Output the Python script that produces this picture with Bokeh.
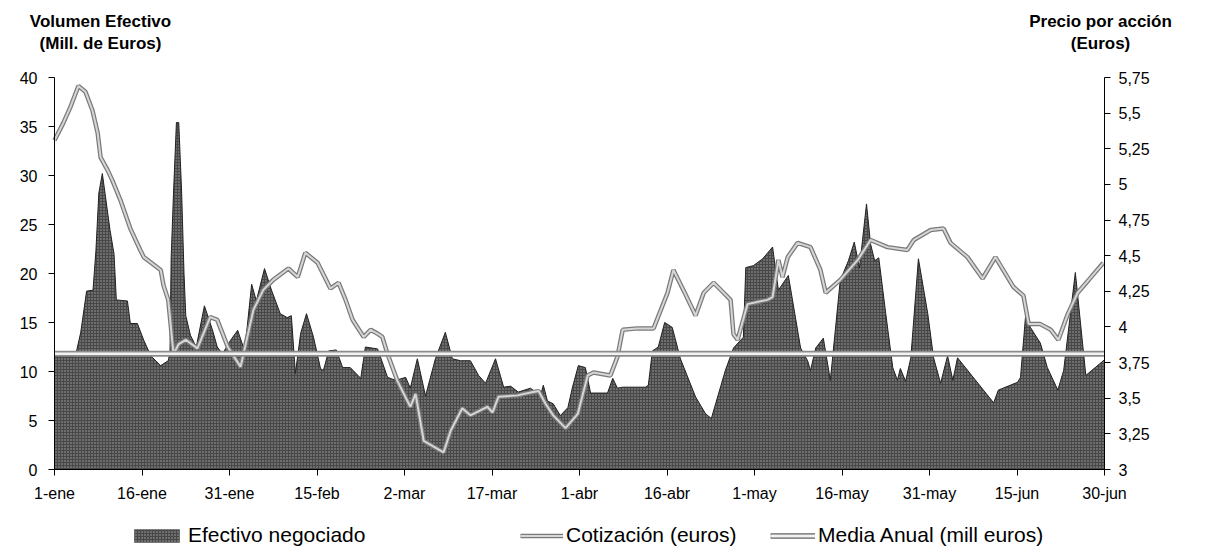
from bokeh.plotting import figure
from bokeh.models import (Range1d, LinearAxis, FixedTicker, Legend, LegendItem, Label)
from bokeh.embed import file_html
from bokeh.resources import INLINE

# ---------------- data (day index from 1-ene) -------------
tick_days = [0, 15, 30, 45, 60, 75, 90, 105, 120, 135, 150, 165, 180]
tick_labels = ["1-ene", "16-ene", "31-ene", "15-feb", "2-mar", "17-mar", "1-abr",
               "16-abr", "1-may", "16-may", "31-may", "15-jun", "30-jun"]

vol_day = [0, 3.6, 4.5, 5.5, 6.6, 7.1, 7.6, 8.2, 8.7, 9.5, 10.2, 10.6, 12.5, 13, 14.2, 15.3,
           16.5, 18.2, 19.5, 19.8, 20.0, 20.4, 20.9, 21.3, 21.8, 22.2, 22.5, 23.3, 24.3, 25.7,
           27.1, 27.9, 28.8, 30.2, 31.4, 32.6, 33.8, 34.6,
           36, 37.2, 38.7, 39.9, 40.6, 41.3, 42.2, 43.2, 44.4, 45.6, 46.1, 47, 48.3, 49.4,
           50.7, 52.5, 53.3, 55.4, 57.1, 58.5, 60.2, 61, 62.2, 63.6, 65.3, 67, 68.2, 69.6,
           71.3, 72.7, 73.9, 75.6, 77, 78.2, 79.5, 81.6, 83.3, 83.8, 84.5, 85.5, 86.7, 88,
           88.8, 89.8, 91, 91.9, 94.8, 95.7, 96.5, 97.4, 101.3, 101.8, 102.5, 103.5, 104.6,
           105.9, 107.3, 109.9, 111.6, 112.6, 115, 116.4, 118.1, 118.5, 119.8, 121.4, 123.1,
           124.1, 125.8, 127.9, 129.1, 129.6, 130.5, 131.8, 133, 134.7, 136.1, 137.1, 138,
           139.2, 139.9, 140.6, 141.3, 142.5, 143.7, 144.5, 145, 145.9, 146.8, 148.1, 149.7,
           150.7, 151.9, 153.1, 154, 154.8, 161, 161.8, 165.1, 165.6, 166.5, 167.3, 169,
           170.2, 172, 173, 175, 176.8, 180]
vol_val = [11.5, 11.6, 14, 18.2, 18.3, 22.3, 28.2, 30.2, 28, 24.5, 22, 17.3, 17.2, 14.9, 14.9,
           13.2, 11.6, 10.6, 11.1, 12, 21.6, 28.2, 35.4, 35.4, 28.2, 20, 15.7, 13.7, 12.5, 16.7,
           14.2, 12.5, 11.8, 13.2, 14.2, 12.1, 18.9, 17.2,
           20.5, 18.3, 15.9, 15.5, 15.7, 9.8, 13.9, 15.9, 13.5, 10.3, 10.1, 12.1, 12.2,
           10.4, 10.4, 9.3, 12.5, 12.3, 9.4, 9.1, 9.4, 8.3, 11.3, 7.5, 11.3, 14, 11.3, 11.1,
           11.1, 9.6, 8.8, 11.3, 8.4, 8.5, 7.9, 8.3, 7.5, 8.6, 7, 6.7, 5.5, 6.3, 8.4, 10.6,
           10.4, 7.8, 7.8, 9.3, 8.3, 8.4, 8.4, 8.6, 12.1, 12.5, 15, 14.5, 11.3, 7.4, 5.7, 5.2,
           10.1, 12.4, 13.5, 20.6, 20.8, 21.5, 22.7, 18.3, 19.8, 12.4, 11.1, 10.1, 12.4, 13.4,
           9.1, 19.3, 21.3, 23.2, 20.6, 27.1, 23, 21.3, 21.6, 15.9, 10.4, 9.1, 10.3, 9, 11.4,
           21.5, 15.9, 11.4, 8.8, 11.6, 9.1, 11.4, 6.8, 8.1, 8.9, 9.4, 15.9, 14.5, 12.9, 10.4,
           8.1, 10.1, 20.1, 9.6, 11.2]

price_day = [0, 1.5, 2.7, 4.1, 5.3, 6.5, 7.4, 7.9, 9.1, 9.9, 11.3, 13, 14.7, 15.3, 18.2, 18.7,
             19.5, 20.4, 21.3, 22.5, 24.5, 26.7, 27.9, 29.7, 31.9, 34.1, 35.8, 37.5, 40.1,
             41.7, 43, 45.1, 47.3, 48.7, 49.9, 51.1, 53, 54.2, 55.5, 56.2, 57.1, 58.8, 61,
             61.9, 63.3, 66.7, 67.9, 69.9, 71.3, 74.2, 75.1, 76.1, 79.4, 81.6, 83, 84.2, 85.5,
             87.6, 89.7, 91.4, 92.4, 95.3, 96.5, 97.4, 99.9, 102.7, 105.1, 106.1, 107.8, 109.9,
             111.3, 113, 114.7, 115.9, 116.4, 117.1, 118.8, 122.2, 123.1, 124.1, 124.8, 125.7,
             127.4, 129.6, 131.3, 132.2, 134.7, 137.7, 139.9, 142.8, 146.2, 147.3, 150.2,
             152.4, 153.6, 156.5, 159.1, 161.3, 164.4, 166.1, 167, 169, 170.8, 172.1, 173.7,
             175.4, 177.3, 179.8]
price_val = [5.31, 5.43, 5.54, 5.69, 5.65, 5.52, 5.36, 5.19, 5.10, 5.03, 4.89, 4.69, 4.54, 4.49,
             4.40, 4.29, 4.19, 3.81, 3.88, 3.91, 3.85, 4.07, 4.05, 3.86, 3.72, 4.12, 4.26, 4.33,
             4.41, 4.35, 4.52, 4.45, 4.27, 4.31, 4.19, 4.05, 3.93, 3.98, 3.95, 3.93, 3.81, 3.62,
             3.44, 3.53, 3.20, 3.12, 3.27, 3.43, 3.38, 3.44, 3.40, 3.51, 3.52, 3.54, 3.55, 3.46,
             3.38, 3.29, 3.39, 3.66, 3.68, 3.66, 3.79, 3.98, 3.99, 3.99, 4.24, 4.40, 4.26, 4.08,
             4.24, 4.31, 4.24, 4.19, 3.95, 3.91, 4.16, 4.19, 4.21, 4.47, 4.35, 4.49, 4.59, 4.56,
             4.40, 4.24, 4.33, 4.47, 4.61, 4.56, 4.54, 4.61, 4.68, 4.69, 4.59, 4.49, 4.34, 4.49,
             4.28, 4.22, 4.02, 4.02, 3.98, 3.91, 4.09, 4.24, 4.33, 4.45]

media_anual = 11.8
left_ticks = [0, 5, 10, 15, 20, 25, 30, 35, 40]
right_ticks = [3, 3.25, 3.5, 3.75, 4, 4.25, 4.5, 4.75, 5, 5.25, 5.5, 5.75]
right_labels = ["3", "3,25", "3,5", "3,75", "4", "4,25", "4,5", "4,75", "5", "5,25", "5,5", "5,75"]

FONT = "Liberation Sans"

# ---------------- geometry: plot area inside a full-canvas frame ----------------
W, H = 1200, 550
PL, PR, PT, PB = 54, 1104, 77, 469          # plot area edges in canvas pixels
x0, x1 = tick_days[0], tick_days[-1]
y0, y1 = left_ticks[0], left_ticks[-1]
r0, r1 = right_ticks[0], right_ticks[-1]


def extend(lo, hi, p_lo, p_hi, total, inverted=False):
    per = (hi - lo) / (p_hi - p_lo)
    if inverted:   # pixel grows downward, value grows upward
        return lo - (total - p_hi) * per, hi + p_lo * per
    return lo - p_lo * per, hi + (total - p_hi) * per


xr = extend(x0, x1, PL, PR, W)
yr = extend(y0, y1, PT, PB, H, inverted=True)
rr = extend(r0, r1, PT, PB, H, inverted=True)

p = figure(width=W, height=H, output_backend="svg", toolbar_location=None,
           x_range=Range1d(*xr), y_range=Range1d(*yr),
           x_axis_type=None, y_axis_type=None,
           min_border_left=0, min_border_right=0, min_border_top=0, min_border_bottom=0)
p.extra_y_ranges = {"precio": Range1d(*rr)}
p.outline_line_color = None
p.background_fill_color = "white"

area = p.varea(x=vol_day, y1=0, y2=vol_val, fill_color="#484848", hatch_pattern="dot",
               hatch_color="#a8a8a8", hatch_scale=3, hatch_weight=0.7)
p.line(vol_day, vol_val, line_color="#222222", line_width=1)
pr_edge = p.line(price_day, price_val, y_range_name="precio", line_color="#7a7a7a",
                 line_width=4.5)
pr_core = p.line(price_day, price_val, y_range_name="precio", line_color="#d6d6d6",
                 line_width=2)
md_x = [x0, x1]
md_y = [media_anual, media_anual]
md_edge = p.line(md_x, md_y, line_color="#8c8c8c", line_width=6)
md_core = p.line(md_x, md_y, line_color="#f2f2f2", line_width=2.5)


def style_axis(ax):
    ax.axis_line_color = "black"
    ax.axis_line_width = 1
    ax.major_tick_line_color = "black"
    ax.major_tick_in = 0
    ax.major_tick_out = 6
    ax.minor_tick_line_color = None
    ax.major_label_text_font = FONT
    ax.major_label_text_font_size = "16px"
    ax.major_label_text_color = "black"


xa = LinearAxis(fixed_location=y0, bounds=(x0, x1), ticker=FixedTicker(ticks=tick_days))
xa.major_label_overrides = {d: l for d, l in zip(tick_days, tick_labels)}
style_axis(xa)
xa.major_label_standoff = 9
p.add_layout(xa, "below")

ya = LinearAxis(fixed_location=x0, bounds=(y0, y1), ticker=FixedTicker(ticks=left_ticks))
style_axis(ya)
ya.major_label_standoff = 11
p.add_layout(ya, "left")

ra = LinearAxis(y_range_name="precio", fixed_location=x1, bounds=(r0, r1),
                ticker=FixedTicker(ticks=right_ticks))
ra.major_label_overrides = {t: l for t, l in zip(right_ticks, right_labels)}
style_axis(ra)
ra.major_label_standoff = 8
p.add_layout(ra, "right")

# axis titles
p.add_layout(Label(x=100, y=H - 11, x_units="screen", y_units="screen",
                   text="Volumen Efectivo\n(Mill. de Euros)", text_align="center",
                   text_baseline="top", text_font=FONT, text_font_style="bold",
                   text_font_size="17px", text_color="black"))
p.add_layout(Label(x=1100, y=H - 11, x_units="screen", y_units="screen",
                   text="Precio por acción\n(Euros)", text_align="center",
                   text_baseline="top", text_font=FONT, text_font_style="bold",
                   text_font_size="17px", text_color="black"))


# legend: three one-item legends in a row below the plot
def add_leg(label, renderers, x, gw):
    leg = Legend(items=[LegendItem(label=label, renderers=renderers)], location=(x, 3),
                 orientation="horizontal", padding=0, margin=0, border_line_color=None,
                 background_fill_alpha=0, glyph_width=gw, glyph_height=17,
                 label_standoff=3, label_text_font=FONT, label_text_font_size="21px",
                 label_height=20, label_text_color="black")
    p.add_layout(leg, "center")


add_leg("Efectivo negociado", [area], 128, 57)
add_leg("Cotización (euros)", [pr_edge, pr_core], 520, 43)
add_leg("Media Anual (mill euros)", [md_edge, md_core], 770, 45)

open("out.html", "w").write(file_html(p, INLINE))
